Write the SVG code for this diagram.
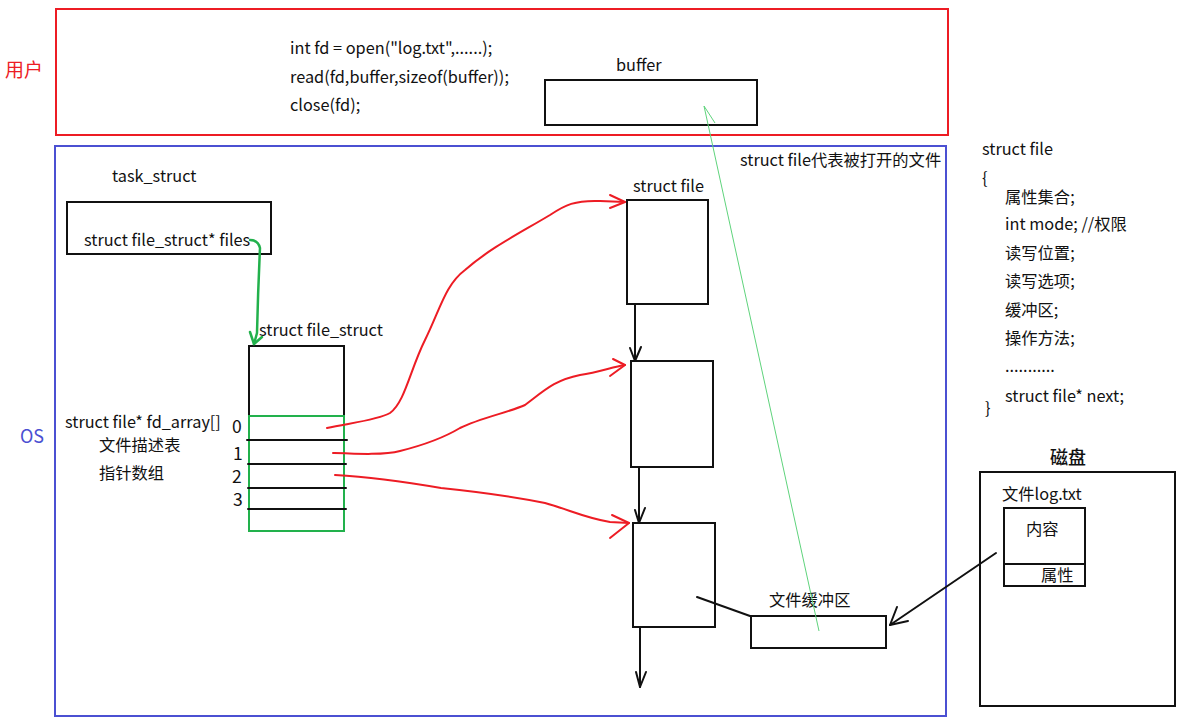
<svg xmlns="http://www.w3.org/2000/svg" width="1185" height="725" viewBox="0 0 1185 725">
<style>
text{font-family:"Noto Sans CJK SC","Noto Sans",sans-serif;font-size:16.3px;fill:#111}
.num{font-size:17.5px}
.box{fill:none;stroke:#111;stroke-width:2}
.red{fill:none;stroke:#ed1c24;stroke-width:2}
.blk{fill:none;stroke:#111;stroke-width:2;stroke-linecap:round;stroke-linejoin:round}
.rl{fill:none;stroke:#ed1c24;stroke-width:2;stroke-linecap:round;stroke-linejoin:round}
</style>
<rect width="1185" height="725" fill="#fff"/>
<g id="user">
<rect x="56" y="9" width="892" height="126" class="red"/>
<text x="5" y="77" style="fill:#ed1c24;font-size:19px">用户</text>
<text x="290" y="54">int fd = open("log.txt",......);</text>
<text x="290" y="83">read(fd,buffer,sizeof(buffer));</text>
<text x="290" y="111">close(fd);</text>
</g>
<g id="buffer">
<text x="616" y="71">buffer</text>
<rect x="545" y="80" width="212" height="45" class="box"/>
</g>
<g id="os">
<rect x="55" y="146" width="891" height="570" fill="none" stroke="#4b50d2" stroke-width="2"/>
<text x="20" y="443" style="fill:#4b50d2;font-size:18px">OS</text>
<text x="740" y="166">struct file代表被打开的文件</text>
</g>
<g id="task_struct">
<text x="112" y="182">task_struct</text>
<rect x="67" y="202" width="204" height="52" class="box"/>
<text x="84" y="246">struct file_struct* files</text>
</g>
<g id="file_struct">
<text x="259" y="336">struct file_struct</text>
<rect x="249" y="346" width="95" height="70" class="box"/>
<rect x="249" y="416" width="95" height="115" fill="none" stroke="#22b14c" stroke-width="2"/>
<line x1="247" y1="440" x2="347" y2="440" class="blk"/>
<line x1="248" y1="464" x2="346" y2="464" class="blk"/>
<line x1="248" y1="488" x2="346" y2="488" class="blk"/>
<line x1="248" y1="509" x2="346" y2="509" class="blk"/>
<text x="65" y="428">struct file* fd_array[]</text>
<text x="99" y="451">文件描述表</text>
<text x="99" y="479">指针数组</text>
<text x="232" y="433" class="num">0</text>
<text x="233" y="460" class="num">1</text>
<text x="232" y="483" class="num">2</text>
<text x="233" y="506" class="num">3</text>
</g>
<g id="file1">
<text x="633" y="192">struct file</text>
<rect x="627" y="200" width="81" height="104" class="box"/>
</g>
<g id="file2">
<rect x="631" y="361" width="82" height="106" class="box"/>
</g>
<g id="file3">
<rect x="633" y="523" width="82" height="104" class="box"/>
</g>
<g id="file_cache">
<text x="769" y="606">文件缓冲区</text>
<rect x="751" y="616" width="135" height="32" class="box"/>
</g>
<g id="struct_file_def">
<text x="982" y="155">struct file</text>
<text x="982" y="184">{</text>
<text x="1005" y="203">属性集合;</text>
<text x="1005" y="230">int mode; //权限</text>
<text x="1005" y="259">读写位置;</text>
<text x="1005" y="287">读写选项;</text>
<text x="1005" y="316">缓冲区;</text>
<text x="1005" y="344">操作方法;</text>
<text x="1005" y="372">...........</text>
<text x="1005" y="402">struct file* next;</text>
<text x="985" y="414">}</text>
</g>
<g id="disk">
<text x="1050" y="464" style="font-size:18px;font-weight:500">磁盘</text>
<rect x="980" y="472" width="195" height="234" class="box"/>
<text x="1002" y="500">文件log.txt</text>
<rect x="1004" y="508" width="81" height="78" class="box"/>
<line x1="1004" y1="564" x2="1085" y2="564" class="blk"/>
<text x="1026" y="535">内容</text>
<text x="1041" y="581">属性</text>
</g>
<g id="connectors">
<path d="M250,240 Q258,240 260,248 Q258,290 257,333 L254,344" fill="none" stroke="#22b14c" stroke-width="2.5" stroke-linecap="round" stroke-linejoin="round"/>
<path d="M250,332 L254,344 L262,337" fill="none" stroke="#22b14c" stroke-width="2.5" stroke-linecap="round" stroke-linejoin="round"/>
<path d="M327,428 C350,423 378,420 390,413 C405,402 410,370 425,340 C440,310 445,285 465,270 C490,248 520,233 550,215 C565,205 575,200 600,201 L625,202" class="rl"/>
<path d="M610,195 L625,202 L610,208" class="rl"/>
<path d="M333,453 C360,454 385,455 400,451 C420,446 440,440 460,428 C480,418 510,412 525,405 C545,390 555,380 580,375 C600,372 612,367 625,365" class="rl"/>
<path d="M613,359 L625,365 L610,376" class="rl"/>
<path d="M335,475 C370,477 400,481 441,488 C480,492 510,496 545,503 C570,510 585,518 610,522 L629,523" class="rl"/>
<path d="M612,515 L629,523 L610,538" class="rl"/>
<path d="M635,304 L635,361" class="blk"/>
<path d="M630,348 L635,361 L641,347" class="blk"/>
<path d="M639,467 L639,523" class="blk"/>
<path d="M635,510 L639,523 L645,508" class="blk"/>
<path d="M640,627 L640,687" class="blk"/>
<path d="M636,672 L640,687 L646,672" class="blk"/>
<path d="M697,597 L750,616" class="blk"/>
<path d="M996,553 L890,625" class="blk"/>
<path d="M897,607 L890,625 L908,621" class="blk"/>
<path d="M819,631 L704,106 L715,123" fill="none" stroke="#5fd37c" stroke-width="1"/>
</g>
</svg>
